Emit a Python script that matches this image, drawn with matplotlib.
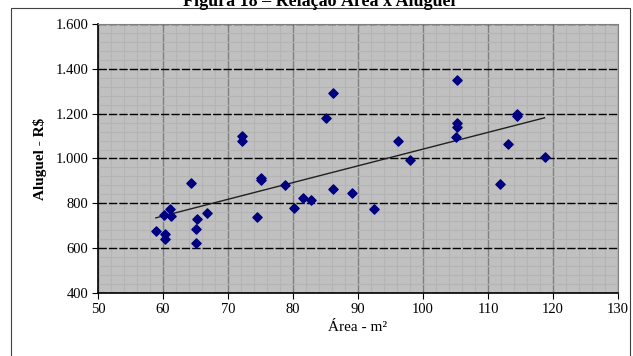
import numpy as np
import matplotlib
matplotlib.use("Agg")
import matplotlib.pyplot as plt
from matplotlib.ticker import MultipleLocator, FuncFormatter
from matplotlib.patches import Rectangle

# area (m2) and rent (R$)
area = [58.9, 60.3, 60.3, 60.2, 61.1, 61.3, 64.3, 65.2, 65.1, 65.0, 66.7,
        72.2, 72.2, 75.0, 75.0, 74.5, 78.7, 80.2, 81.6, 82.8, 86.2, 89.1,
        92.5, 96.2, 98.0, 111.8, 113.1, 118.7, 105.3, 105.3, 105.3, 105.1,
        114.5, 114.5, 86.1, 85.0]
aluguel = [678, 664, 642, 747, 776, 743, 889, 730, 684, 622, 755,
           1100, 1077, 906, 911, 740, 883, 781, 822, 815, 862, 848,
           775, 1080, 992, 888, 1066, 1005, 1352, 1157, 1142, 1097,
           1190, 1197, 1291, 1179]

titulo = "Figura 18 \u2013 Rela\u00e7\u00e3o \u00c1rea x Aluguel"
xlabel = "\u00c1rea - m\u00b2"
ylabel = "Aluguel - R$"

plt.rcParams['font.family'] = ['Liberation Serif', 'DejaVu Serif']

fig = plt.figure(figsize=(6.33, 3.56), dpi=100)

# chart area border (Excel style)
fig.patches.append(Rectangle((11 / 633, -0.1), 619 / 633, 1 - 8 / 356 + 0.1,
                             transform=fig.transFigure, fill=False,
                             edgecolor='#404040', linewidth=0.8))
fig.text(0.505, 1 - 6 / 356, titulo, ha='center', va='baseline',
         fontsize=13, fontweight='bold')

ax = fig.add_axes([98 / 633, 1 - 293 / 356, 520 / 633, 269 / 356])
ax.set_facecolor('#C0C0C0')

ax.set_xlim(50, 130)
ax.set_ylim(400, 1600)
ax.xaxis.set_major_locator(MultipleLocator(10))
ax.xaxis.set_minor_locator(MultipleLocator(2))
ax.yaxis.set_major_locator(MultipleLocator(200))
ax.yaxis.set_minor_locator(MultipleLocator(40))
ax.yaxis.set_major_formatter(FuncFormatter(lambda v, p: f"{int(v):,}".replace(",", ".")))

ax.grid(which='minor', color='#B4B4B4', linewidth=0.8)
ax.grid(which='major', axis='x', color='#808080', linewidth=1.0)
ax.grid(which='major', axis='y', color='black', linewidth=1.0, linestyle=(0, (6, 1.5)))
ax.set_axisbelow(True)

for s in ['top', 'right']:
    ax.spines[s].set_color('#808080')
ax.spines['left'].set_linewidth(1.2)
ax.spines['bottom'].set_linewidth(1.2)

ax.tick_params(which='major', direction='out', length=4, labelsize=10.5, pad=3)
ax.tick_params(which='minor', length=0)

ax.scatter(area, aluguel, marker='D', s=22, color='#000080', zorder=3)

# linear trend line
coef = np.polyfit(area, aluguel, 1)
xs = np.array([min(area), max(area)])
ax.plot(xs, np.polyval(coef, xs), color='#202020', linewidth=1.0, zorder=2)

ax.set_xlabel(xlabel, fontsize=11, labelpad=4)
ax.set_ylabel(ylabel, fontsize=11, fontweight='bold', labelpad=6)

fig.savefig("out.png", dpi=100)
